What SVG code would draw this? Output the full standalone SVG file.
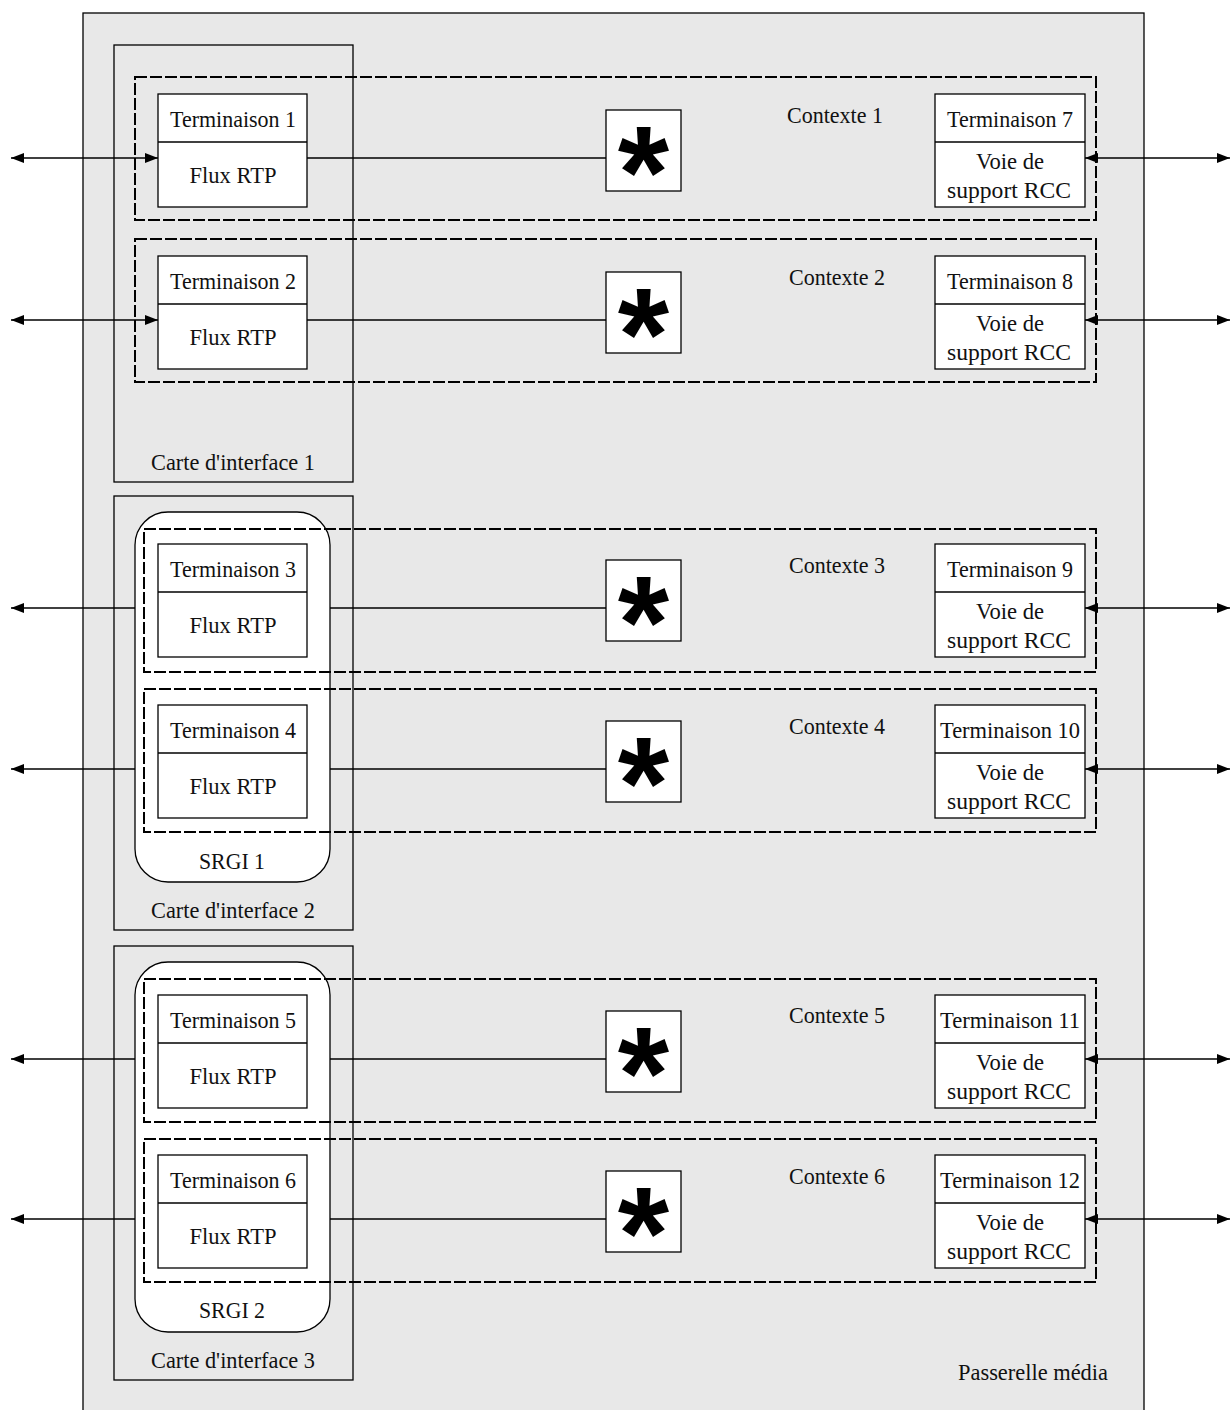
<svg xmlns="http://www.w3.org/2000/svg" width="1231" height="1410" viewBox="0 0 1231 1410">
<defs>
<style>
.ln{stroke:#000;stroke-width:1.3;fill:none}
.box{stroke:#000;stroke-width:1.3;fill:#fff}
.ctx{stroke:#000;stroke-width:2;fill:none;stroke-dasharray:12 3}
.t{font-family:"Liberation Serif","Times New Roman",serif;font-size:24px;fill:#111;text-anchor:middle}
.ast{font-family:"Liberation Sans",Arial,sans-serif;font-weight:bold;font-size:132px;fill:#000;text-anchor:middle}
</style>
<marker id="ah" viewBox="0 0 13 10" refX="13" refY="5" markerWidth="13" markerHeight="10" markerUnits="userSpaceOnUse" orient="auto-start-reverse">
<path d="M0,0 L13,5 L0,10 z" fill="#000"/>
</marker>
</defs>
<rect width="1231" height="1410" fill="#fff"/>
<g id="passerelle">
<rect x="83" y="13" width="1061" height="1410" fill="#e8e8e8" stroke="#000" stroke-width="1.3"/>
<text class="t" x="1033" y="1380" textLength="150" lengthAdjust="spacingAndGlyphs">Passerelle média</text>
</g>
<g id="carte1">
<rect class="ln" x="114" y="45" width="239" height="437"/>
<text class="t" x="233" y="470" textLength="164" lengthAdjust="spacingAndGlyphs">Carte d'interface 1</text>
</g>
<g id="carte2">
<rect class="ln" x="114" y="496" width="239" height="434"/>
<text class="t" x="233" y="918" textLength="164" lengthAdjust="spacingAndGlyphs">Carte d'interface 2</text>
</g>
<g id="carte3">
<rect class="ln" x="114" y="946" width="239" height="434"/>
<text class="t" x="233" y="1368" textLength="164" lengthAdjust="spacingAndGlyphs">Carte d'interface 3</text>
</g>
<g id="srgi1">
<rect class="box" x="135" y="512" width="195" height="370" rx="33"/>
<text class="t" x="232" y="869" textLength="66" lengthAdjust="spacingAndGlyphs">SRGI 1</text>
</g>
<g id="srgi2">
<rect class="box" x="135" y="962" width="195" height="370" rx="33"/>
<text class="t" x="232" y="1318" textLength="66" lengthAdjust="spacingAndGlyphs">SRGI 2</text>
</g>
<g id="contextes">
<g id="contexte1"><rect class="ctx" x="135" y="77" width="961" height="143"/><text class="t" x="835" y="123" textLength="96" lengthAdjust="spacingAndGlyphs">Contexte 1</text></g>
<g id="contexte2"><rect class="ctx" x="135" y="239" width="961" height="143"/><text class="t" x="837" y="285" textLength="96" lengthAdjust="spacingAndGlyphs">Contexte 2</text></g>
<g id="contexte3"><rect class="ctx" x="144" y="529" width="952" height="143"/><text class="t" x="837" y="573" textLength="96" lengthAdjust="spacingAndGlyphs">Contexte 3</text></g>
<g id="contexte4"><rect class="ctx" x="144" y="689" width="952" height="143"/><text class="t" x="837" y="734" textLength="96" lengthAdjust="spacingAndGlyphs">Contexte 4</text></g>
<g id="contexte5"><rect class="ctx" x="144" y="979" width="952" height="143"/><text class="t" x="837" y="1023" textLength="96" lengthAdjust="spacingAndGlyphs">Contexte 5</text></g>
<g id="contexte6"><rect class="ctx" x="144" y="1139" width="952" height="143"/><text class="t" x="837" y="1184" textLength="96" lengthAdjust="spacingAndGlyphs">Contexte 6</text></g>
</g>
<g id="connecteurs">
<line class="ln" x1="11" y1="158" x2="158" y2="158" marker-start="url(#ah)" marker-end="url(#ah)"/>
<line class="ln" x1="307" y1="158" x2="606" y2="158"/>
<line class="ln" x1="1085" y1="158" x2="1230" y2="158" marker-start="url(#ah)" marker-end="url(#ah)"/>
<line class="ln" x1="11" y1="320" x2="158" y2="320" marker-start="url(#ah)" marker-end="url(#ah)"/>
<line class="ln" x1="307" y1="320" x2="606" y2="320"/>
<line class="ln" x1="1085" y1="320" x2="1230" y2="320" marker-start="url(#ah)" marker-end="url(#ah)"/>
<line class="ln" x1="11" y1="608" x2="135" y2="608" marker-start="url(#ah)"/>
<line class="ln" x1="330" y1="608" x2="606" y2="608"/>
<line class="ln" x1="1085" y1="608" x2="1230" y2="608" marker-start="url(#ah)" marker-end="url(#ah)"/>
<line class="ln" x1="11" y1="769" x2="135" y2="769" marker-start="url(#ah)"/>
<line class="ln" x1="330" y1="769" x2="606" y2="769"/>
<line class="ln" x1="1085" y1="769" x2="1230" y2="769" marker-start="url(#ah)" marker-end="url(#ah)"/>
<line class="ln" x1="11" y1="1059" x2="135" y2="1059" marker-start="url(#ah)"/>
<line class="ln" x1="330" y1="1059" x2="606" y2="1059"/>
<line class="ln" x1="1085" y1="1059" x2="1230" y2="1059" marker-start="url(#ah)" marker-end="url(#ah)"/>
<line class="ln" x1="11" y1="1219" x2="135" y2="1219" marker-start="url(#ah)"/>
<line class="ln" x1="330" y1="1219" x2="606" y2="1219"/>
<line class="ln" x1="1085" y1="1219" x2="1230" y2="1219" marker-start="url(#ah)" marker-end="url(#ah)"/>
</g>
<g id="t1"><rect class="box" x="158" y="94" width="149" height="113"/><line class="ln" x1="158" y1="142" x2="307" y2="142"/><text class="t" x="233" y="127" textLength="126" lengthAdjust="spacingAndGlyphs">Terminaison 1</text><text class="t" x="233" y="183" textLength="87" lengthAdjust="spacingAndGlyphs">Flux RTP</text></g>
<g id="t2"><rect class="box" x="158" y="256" width="149" height="113"/><line class="ln" x1="158" y1="304" x2="307" y2="304"/><text class="t" x="233" y="289" textLength="126" lengthAdjust="spacingAndGlyphs">Terminaison 2</text><text class="t" x="233" y="345" textLength="87" lengthAdjust="spacingAndGlyphs">Flux RTP</text></g>
<g id="t3"><rect class="box" x="158" y="544" width="149" height="113"/><line class="ln" x1="158" y1="592" x2="307" y2="592"/><text class="t" x="233" y="577" textLength="126" lengthAdjust="spacingAndGlyphs">Terminaison 3</text><text class="t" x="233" y="633" textLength="87" lengthAdjust="spacingAndGlyphs">Flux RTP</text></g>
<g id="t4"><rect class="box" x="158" y="705" width="149" height="113"/><line class="ln" x1="158" y1="753" x2="307" y2="753"/><text class="t" x="233" y="738" textLength="126" lengthAdjust="spacingAndGlyphs">Terminaison 4</text><text class="t" x="233" y="794" textLength="87" lengthAdjust="spacingAndGlyphs">Flux RTP</text></g>
<g id="t5"><rect class="box" x="158" y="995" width="149" height="113"/><line class="ln" x1="158" y1="1043" x2="307" y2="1043"/><text class="t" x="233" y="1028" textLength="126" lengthAdjust="spacingAndGlyphs">Terminaison 5</text><text class="t" x="233" y="1084" textLength="87" lengthAdjust="spacingAndGlyphs">Flux RTP</text></g>
<g id="t6"><rect class="box" x="158" y="1155" width="149" height="113"/><line class="ln" x1="158" y1="1203" x2="307" y2="1203"/><text class="t" x="233" y="1188" textLength="126" lengthAdjust="spacingAndGlyphs">Terminaison 6</text><text class="t" x="233" y="1244" textLength="87" lengthAdjust="spacingAndGlyphs">Flux RTP</text></g>
<g id="t7"><rect class="box" x="935" y="94" width="150" height="113"/><line class="ln" x1="935" y1="142" x2="1085" y2="142"/><text class="t" x="1010" y="127" textLength="126" lengthAdjust="spacingAndGlyphs">Terminaison 7</text><text class="t" x="1010" y="169" textLength="68" lengthAdjust="spacingAndGlyphs">Voie de</text><text class="t" x="1009" y="198" textLength="124" lengthAdjust="spacingAndGlyphs">support RCC</text></g>
<g id="t8"><rect class="box" x="935" y="256" width="150" height="113"/><line class="ln" x1="935" y1="304" x2="1085" y2="304"/><text class="t" x="1010" y="289" textLength="126" lengthAdjust="spacingAndGlyphs">Terminaison 8</text><text class="t" x="1010" y="331" textLength="68" lengthAdjust="spacingAndGlyphs">Voie de</text><text class="t" x="1009" y="360" textLength="124" lengthAdjust="spacingAndGlyphs">support RCC</text></g>
<g id="t9"><rect class="box" x="935" y="544" width="150" height="113"/><line class="ln" x1="935" y1="592" x2="1085" y2="592"/><text class="t" x="1010" y="577" textLength="126" lengthAdjust="spacingAndGlyphs">Terminaison 9</text><text class="t" x="1010" y="619" textLength="68" lengthAdjust="spacingAndGlyphs">Voie de</text><text class="t" x="1009" y="648" textLength="124" lengthAdjust="spacingAndGlyphs">support RCC</text></g>
<g id="t10"><rect class="box" x="935" y="705" width="150" height="113"/><line class="ln" x1="935" y1="753" x2="1085" y2="753"/><text class="t" x="1010" y="738" textLength="140" lengthAdjust="spacingAndGlyphs">Terminaison 10</text><text class="t" x="1010" y="780" textLength="68" lengthAdjust="spacingAndGlyphs">Voie de</text><text class="t" x="1009" y="809" textLength="124" lengthAdjust="spacingAndGlyphs">support RCC</text></g>
<g id="t11"><rect class="box" x="935" y="995" width="150" height="113"/><line class="ln" x1="935" y1="1043" x2="1085" y2="1043"/><text class="t" x="1010" y="1028" textLength="140" lengthAdjust="spacingAndGlyphs">Terminaison 11</text><text class="t" x="1010" y="1070" textLength="68" lengthAdjust="spacingAndGlyphs">Voie de</text><text class="t" x="1009" y="1099" textLength="124" lengthAdjust="spacingAndGlyphs">support RCC</text></g>
<g id="t12"><rect class="box" x="935" y="1155" width="150" height="113"/><line class="ln" x1="935" y1="1203" x2="1085" y2="1203"/><text class="t" x="1010" y="1188" textLength="140" lengthAdjust="spacingAndGlyphs">Terminaison 12</text><text class="t" x="1010" y="1230" textLength="68" lengthAdjust="spacingAndGlyphs">Voie de</text><text class="t" x="1009" y="1259" textLength="124" lengthAdjust="spacingAndGlyphs">support RCC</text></g>
<g id="star1"><rect class="box" x="606" y="110" width="75" height="81"/><text class="ast" x="643.5" y="218">*</text></g>
<g id="star2"><rect class="box" x="606" y="272" width="75" height="81"/><text class="ast" x="643.5" y="380">*</text></g>
<g id="star3"><rect class="box" x="606" y="560" width="75" height="81"/><text class="ast" x="643.5" y="668">*</text></g>
<g id="star4"><rect class="box" x="606" y="721" width="75" height="81"/><text class="ast" x="643.5" y="829">*</text></g>
<g id="star5"><rect class="box" x="606" y="1011" width="75" height="81"/><text class="ast" x="643.5" y="1119">*</text></g>
<g id="star6"><rect class="box" x="606" y="1171" width="75" height="81"/><text class="ast" x="643.5" y="1279">*</text></g>
</svg>
